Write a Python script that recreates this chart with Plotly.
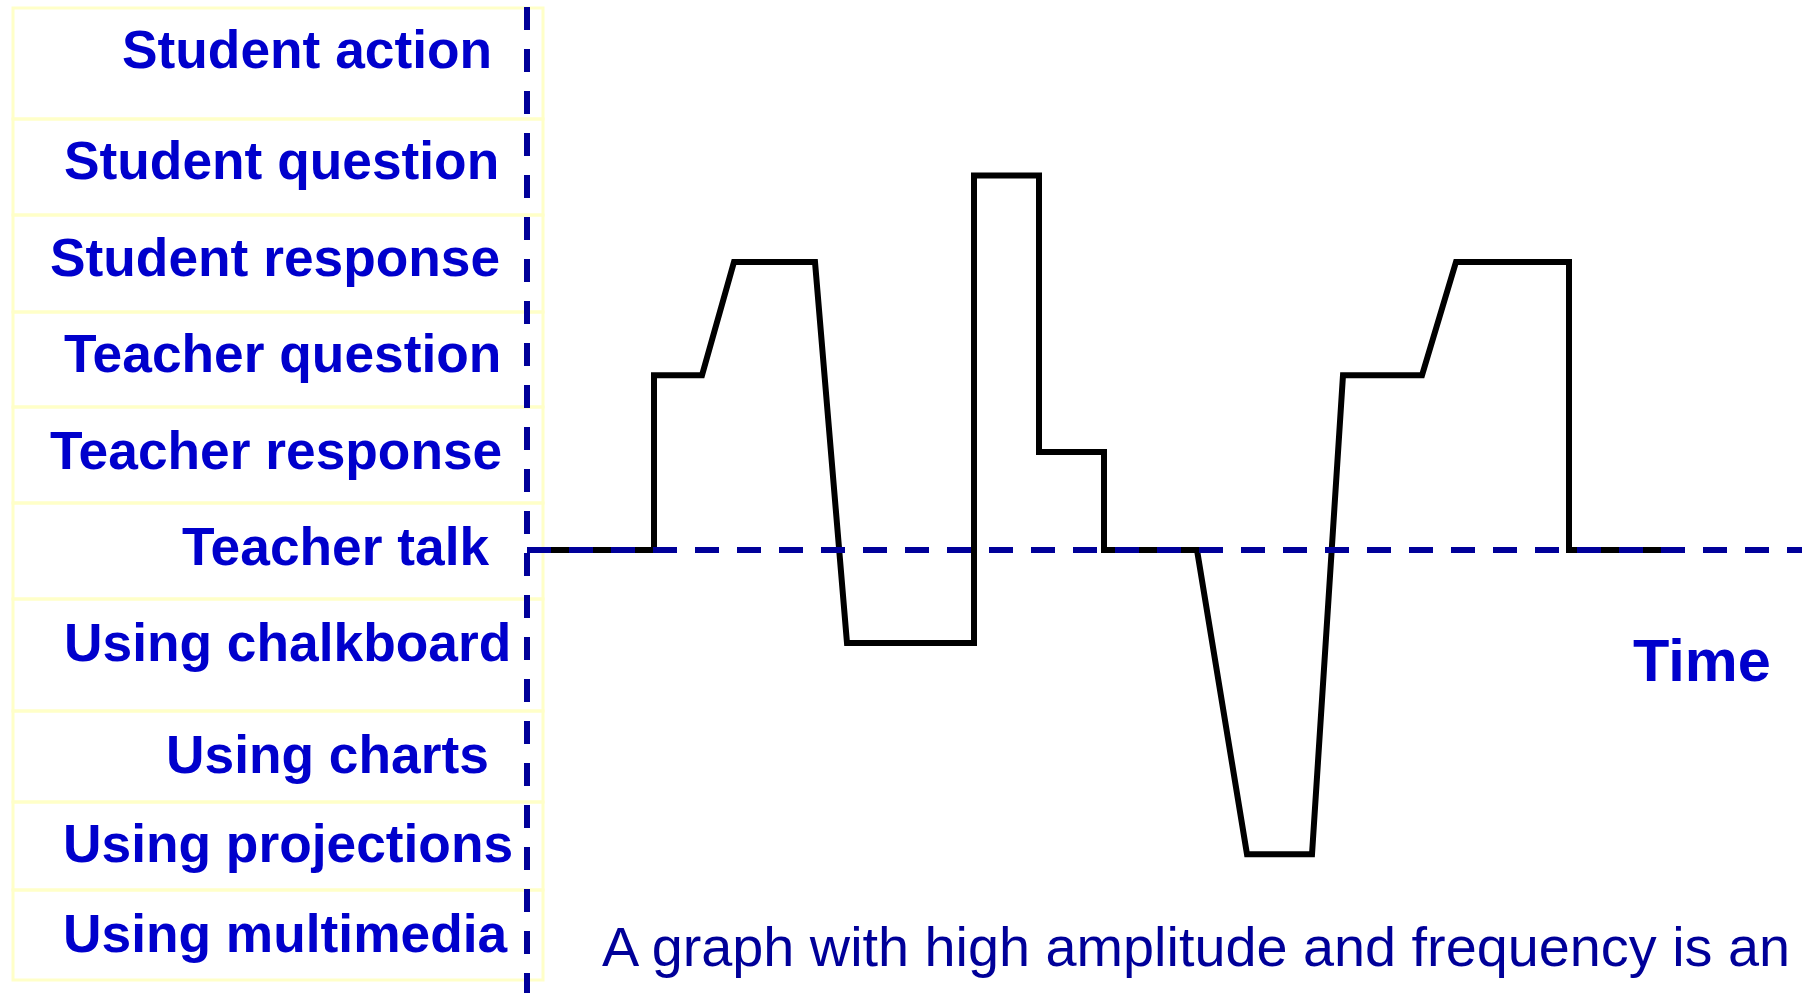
import plotly.graph_objects as go

# ---------------- data ----------------
# time in arbitrary units, activity level relative to "Teacher talk" (= 0)
time_pts = [0, 12.7, 12.7, 17.5, 20.7, 28.8, 32.0, 44.7, 44.7, 51.2, 51.2,
            57.7, 57.7, 67.0, 72.0, 78.5, 81.6, 89.5, 92.9, 104.2, 104.2, 115.6]
level_pts = [0, 0, 1.82, 1.82, 3.0, 3.0, -0.97, -0.97, 3.9, 3.9, 1.02,
             1.02, 0, 0, -3.17, -3.17, 1.82, 1.82, 3.0, 3.0, 0, 0]

row_labels = ["Student action", "Student question", "Student response",
              "Teacher question", "Teacher response", "Teacher talk",
              "Using chalkboard", "Using charts", "Using projections",
              "Using multimedia"]
time_label = "Time"
caption = "A graph with high amplitude and frequency is an"

# ---------------- layout geometry (pixels) ----------------
W, H = 1802, 993
row_edges_px = [8, 119, 215, 312, 407, 503, 599, 711, 802, 890, 980]
label_right_px = [494, 501, 502, 503, 504, 491, 513, 491, 515, 510]
label_mid_px = [50, 161, 257, 353, 450, 546, 642, 754, 843, 933]
table_left_px, table_right_px = 13, 543

# axis scales: x pixel = 527 + 10*t ; y pixel = 550 - 96*level
x_range = [-52.7, (W - 527) / 10]
y_range = [-(H - 550) / 96, 550 / 96]

LABEL_BLUE = "#0000CC"
NAVY = "#000099"
FONT = "Liberation Sans, Arial, sans-serif"

fig = go.Figure()

# activity line
fig.add_trace(go.Scatter(x=time_pts, y=level_pts, mode="lines",
                         line=dict(color="black", width=6),
                         hoverinfo="skip", showlegend=False))
# baseline (teacher talk) dashed
fig.add_trace(go.Scatter(x=[0, x_range[1]], y=[0, 0], mode="lines",
                         line=dict(color=NAVY, width=6, dash="24px,18px"),
                         hoverinfo="skip", showlegend=False))
# time-zero dashed vertical
fig.add_trace(go.Scatter(x=[0, 0], y=[(550 - 7) / 96, y_range[0]], mode="lines",
                         line=dict(color=NAVY, width=6, dash="23px,19px"),
                         hoverinfo="skip", showlegend=False))

shapes = []
for i in range(len(row_edges_px) - 1):
    shapes.append(dict(type="rect", xref="paper", yref="paper",
                       x0=table_left_px / W, x1=table_right_px / W,
                       y0=1 - row_edges_px[i + 1] / H, y1=1 - row_edges_px[i] / H,
                       line=dict(color="#FFFFC8", width=3), layer="below"))

annotations = []
for lab, xr, ym in zip(row_labels, label_right_px, label_mid_px):
    annotations.append(dict(text=lab, xref="paper", yref="paper",
                            x=xr / W, y=1 - ym / H, xanchor="right", yanchor="middle",
                            showarrow=False,
                            font=dict(family=FONT, size=53.3, color=LABEL_BLUE, weight="bold")))
annotations.append(dict(text=time_label, xref="paper", yref="paper",
                        x=1773 / W, y=1 - 660 / H, xanchor="right", yanchor="middle",
                        showarrow=False,
                        font=dict(family=FONT, size=59.5, color=LABEL_BLUE, weight="bold")))
annotations.append(dict(text=caption, xref="paper", yref="paper",
                        x=600 / W, y=1 - 946 / H, xanchor="left", yanchor="middle",
                        showarrow=False,
                        font=dict(family=FONT, size=55.8, color=NAVY)))

fig.update_layout(
    width=W, height=H,
    margin=dict(l=0, r=0, t=0, b=0),
    paper_bgcolor="white", plot_bgcolor="white",
    xaxis=dict(range=x_range, visible=False, fixedrange=True),
    yaxis=dict(range=y_range, visible=False, fixedrange=True),
    shapes=shapes, annotations=annotations,
    hovermode=False,
)

fig.write_html("out.html", config={"displayModeBar": False},
               post_script="document.body.style.margin='0';document.body.style.overflow='hidden';")
